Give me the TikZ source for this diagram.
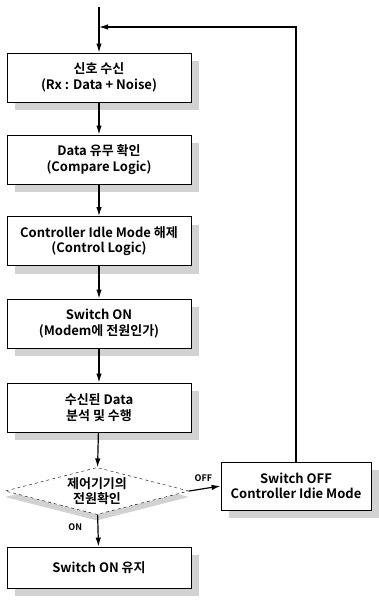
\documentclass[tikz,border=0pt]{standalone}
\usepackage{fontspec}
\setmainfont{Noto Sans CJK KR}[BoldFont={Noto Sans CJK KR Bold}]
\usepackage{tikz}
\usetikzlibrary{shapes.geometric,arrows.meta,shadows}
\tikzstyle{arrow} = [line width=1.2pt,-{Latex[length=9pt,width=5.5pt]}]
\tikzstyle{stepbox} = [draw,line width=0.9pt,fill=white,rectangle,align=center,
    minimum width=184pt,minimum height=49pt,inner sep=0.5ex,
    font=\fontsize{13}{15.5}\selectfont\bfseries,
    drop shadow={shadow xshift=8pt,shadow yshift=-8pt,fill=gray!35,opacity=1}]
\tikzstyle{branch} = [font=\fontsize{9}{10}\selectfont\bfseries]

\begin{document}
\begin{tikzpicture}[x=1pt,y=-1pt]
                        \useasboundingbox (0,0) rectangle (378,602);
                        \coordinate (start) at (99,7);
                        \node[stepbox] (rx) at (99,77.5) {신호 수신\\(Rx : Data + Noise)};
                        \node[stepbox] (compare) at (99,159.5) {Data 유무 확인\\(Compare Logic)};
                        \node[stepbox] (wake) at (99,241) {Controller Idle Mode 해제\\(Control Logic)};
                        \node[stepbox] (swon) at (99,323.5) {Switch ON\\(Modem에 전원인가)};
                        \node[stepbox] (exec) at (99,407.5) {수신된 Data\\분석 및 수행};
                        \node[draw,dashed,thin,diamond,aspect=4,inner sep=0pt,fill=white,align=center,
                            minimum width=184pt,minimum height=47pt,
                            font=\fontsize{13}{15.5}\selectfont\bfseries,
                            drop shadow={shadow xshift=0pt,shadow yshift=-6pt,fill=gray!35,opacity=1}]
                            (power) at (97,491) {제어기기의\\전원확인};
                        \node[stepbox,minimum height=41pt] (keep) at (99,567.5) {Switch ON 유지};
                        \node[stepbox,minimum width=150pt,minimum height=48pt] (swoff) at (296,486)
                            {Switch OFF\\Controller Idie Mode};
                        \coordinate (back) at (swoff.north |- 0,27);

                        \draw[arrow] (start) -- (rx);
                        \draw[arrow] (rx) -- (compare);
                        \draw[arrow] (compare) -- (wake);
                        \draw[arrow] (wake) -- (swon);
                        \draw[arrow] (swon) -- (exec);
                        \draw[arrow] (exec) -- (power);
                        \draw[arrow] (power) -- node[branch,left=12pt,pos=0.4] {ON} (keep);
                        \draw[arrow] (power.east) -- node[branch,above=3pt,pos=0.45] {OFF} (swoff.west);
                        \draw[arrow] (swoff.north) -- (back) -- (back -| start);
                    \end{tikzpicture}
\end{document}
